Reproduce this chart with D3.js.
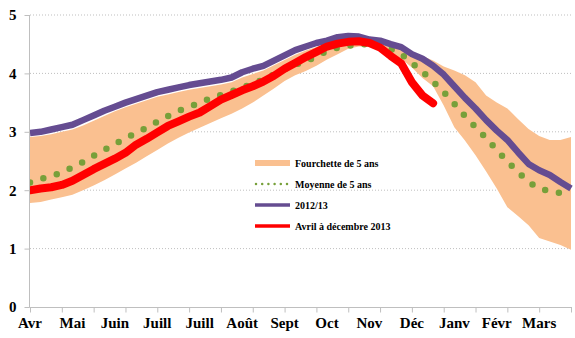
<!DOCTYPE html>
<html><head><meta charset="utf-8">
<script src="https://cdn.jsdelivr.net/npm/d3@7"></script>
<style>body{margin:0;background:#fff}svg{display:block}</style>
</head><body><svg id="c" width="575" height="338"></svg>
<script>
// 52 weekly categories, month labels every 4 weeks
const monthLabels = ["Avr","Mai","Juin","Juill","Juill","Août","Sept","Oct","Nov","Déc","Janv","Févr","Mars"];
const weeks = d3.range(52);
const yTicks = [0,1,2,3,4,5];

const bandHigh = [2.91,2.93,2.96,3.00,3.04,3.11,3.19,3.27,3.35,3.42,3.48,3.54,3.60,3.64,3.68,3.72,3.75,3.78,3.81,3.85,3.93,3.99,4.05,4.14,4.23,4.32,4.39,4.45,4.50,4.55,4.57,4.57,4.53,4.50,4.46,4.42,4.35,4.30,4.22,4.12,4.05,3.97,3.85,3.62,3.50,3.40,3.22,3.05,2.93,2.86,2.86,2.91];
const bandLow = [1.78,1.80,1.84,1.88,1.92,2.00,2.08,2.17,2.27,2.37,2.47,2.58,2.69,2.80,2.90,2.99,3.07,3.15,3.23,3.31,3.40,3.50,3.62,3.74,3.87,3.97,4.04,4.13,4.24,4.33,4.42,4.46,4.46,4.42,4.35,4.25,4.10,3.92,3.78,3.45,3.08,2.85,2.60,2.32,2.03,1.71,1.56,1.40,1.18,1.12,1.06,0.98];
const mean5 = [2.13,2.19,2.24,2.30,2.39,2.48,2.59,2.69,2.79,2.89,2.98,3.07,3.17,3.27,3.36,3.42,3.50,3.57,3.63,3.69,3.76,3.82,3.90,3.98,4.07,4.15,4.20,4.30,4.38,4.44,4.47,4.50,4.50,4.47,4.42,4.33,4.18,4.03,3.86,3.68,3.48,3.27,3.08,2.89,2.69,2.49,2.31,2.14,2.03,1.98,1.95,1.93];
const y2012 = [2.98,3.00,3.04,3.08,3.12,3.20,3.28,3.36,3.43,3.50,3.56,3.62,3.68,3.72,3.76,3.80,3.83,3.86,3.89,3.93,4.02,4.08,4.13,4.22,4.31,4.40,4.46,4.52,4.56,4.62,4.64,4.63,4.58,4.56,4.50,4.45,4.33,4.25,4.13,3.98,3.78,3.58,3.40,3.20,3.02,2.86,2.65,2.45,2.34,2.26,2.14,2.03];
const y2013 = [2.00,2.03,2.05,2.09,2.16,2.26,2.36,2.45,2.54,2.64,2.78,2.88,2.99,3.10,3.18,3.26,3.33,3.44,3.55,3.63,3.71,3.78,3.86,3.96,4.08,4.18,4.28,4.37,4.46,4.51,4.54,4.55,4.52,4.44,4.30,4.17,3.85,3.62,3.49];

const seriesNames = ["Fourchette de 5 ans","Moyenne de 5 ans","2012/13","Avril à décembre 2013"];
const colors = {band:"#FAC090", mean:"#77A03A", y2012:"#654C91", y2013:"#FF0000"};

const svg = d3.select("#c");
const x = d3.scalePoint().domain(weeks).range([30, 571]);
const y = d3.scaleLinear().domain([0,5]).range([307, 15]);

svg.append("defs").append("clipPath").attr("id","plot")
  .append("rect").attr("x",30).attr("y",0).attr("width",545).attr("height",307);

// gridlines
svg.append("g").selectAll("line").data(yTicks.filter(d=>d>0)).join("line")
  .attr("x1",30).attr("x2",572).attr("y1",d=>y(d)).attr("y2",d=>y(d))
  .attr("stroke","#BFBFBF").attr("stroke-width",1).attr("stroke-dasharray","1,2");

const plot = svg.append("g").attr("clip-path","url(#plot)");

// band
plot.append("path").datum(weeks)
  .attr("d", d3.area().x(i=>x(i)).y0(i=>y(bandLow[i])).y1(i=>y(bandHigh[i])))
  .attr("fill", colors.band);

// mean dotted
plot.append("path").datum(weeks)
  .attr("d", d3.line().x(i=>x(i)).y(i=>y(mean5[i])))
  .attr("fill","none").attr("stroke",colors.mean).attr("stroke-width",6.5)
  .attr("stroke-linecap","round").attr("stroke-dasharray","0,14");

// 2012/13
plot.append("path").datum(weeks)
  .attr("d", d3.line().x(i=>x(i)).y(i=>y(y2012[i])))
  .attr("fill","none").attr("stroke",colors.y2012).attr("stroke-width",6.5)
  .attr("stroke-linejoin","round");

// 2013
plot.append("path").datum(d3.range(y2013.length))
  .attr("d", d3.line().x(i=>x(i)).y(i=>y(y2013[i])))
  .attr("fill","none").attr("stroke",colors.y2013).attr("stroke-width",8)
  .attr("stroke-linejoin","round").attr("stroke-linecap","round");

// axes
const yAxis = d3.axisLeft(y).tickValues(yTicks).tickSize(5).tickFormat(d3.format("d"));
const gy = svg.append("g").attr("transform","translate(29.5,0)").call(yAxis);
gy.select(".domain").attr("stroke","#BFBFBF").attr("d","M0,15V307.5");
gy.selectAll(".tick line").attr("stroke","#BFBFBF");
gy.selectAll(".tick text").attr("x",-13).attr("fill","#000")
  .style("font-family","'Liberation Serif','Times New Roman',serif").style("font-weight","bold").style("font-size","15px");

const xAxis = d3.axisBottom(x).tickValues(weeks.filter(i=>i%3===0)).tickSize(5).tickFormat("");
const gx = svg.append("g").attr("transform","translate(0,307.5)").call(xAxis);
gx.select(".domain").attr("stroke","#BFBFBF").attr("d","M29.5,0H572");
gx.selectAll(".tick line").attr("stroke","#BFBFBF");

svg.append("g").selectAll("text").data(monthLabels).join("text")
  .attr("x",(d,k)=>x(k*4)).attr("y",328).attr("text-anchor","middle")
  .style("font-family","'Liberation Serif','Times New Roman',serif").style("font-weight","bold").style("font-size","15px")
  .text(d=>d);

// legend
const lg = svg.append("g");
const rows = [163,184,205,226];
lg.append("line").attr("x1",255).attr("x2",290).attr("y1",rows[0]).attr("y2",rows[0]).attr("stroke",colors.band).attr("stroke-width",6);
lg.append("line").attr("x1",256).attr("x2",290).attr("y1",rows[1]).attr("y2",rows[1]).attr("stroke",colors.mean).attr("stroke-width",2.5)
  .attr("stroke-linecap","round").attr("stroke-dasharray","0,6.2");
lg.append("line").attr("x1",255).attr("x2",290).attr("y1",rows[2]).attr("y2",rows[2]).attr("stroke",colors.y2012).attr("stroke-width",3.5);
lg.append("line").attr("x1",255).attr("x2",290).attr("y1",rows[3]).attr("y2",rows[3]).attr("stroke",colors.y2013).attr("stroke-width",3.5);
lg.selectAll("text").data(seriesNames).join("text")
  .attr("x",295).attr("y",(d,k)=>rows[k]+3.5)
  .style("font-family","'Liberation Serif','Times New Roman',serif").style("font-weight","bold").style("font-size","10px")
  .text(d=>d);
</script></body></html>
